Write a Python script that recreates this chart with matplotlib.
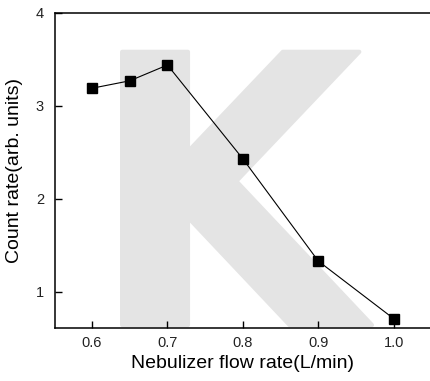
import matplotlib
matplotlib.use('Agg')
import matplotlib.pyplot as plt
from matplotlib.textpath import TextPath
from matplotlib.font_manager import FontProperties
from matplotlib.patches import PathPatch
from matplotlib.transforms import Affine2D

plt.rcParams['font.family'] = ['Liberation Sans', 'DejaVu Sans']

flow_rate = [0.6, 0.65, 0.7, 0.8, 0.9, 1.0]
count_rate = [3.19, 3.27, 3.44, 2.43, 1.33, 0.71]
x_ticks = [0.6, 0.7, 0.8, 0.9, 1.0]
y_ticks = [1, 2, 3, 4]

fig = plt.figure(figsize=(4.3, 3.81), dpi=100)
ax = fig.add_axes([0.128, 0.139, 0.872, 0.827])

# grey "K" watermark behind the data, scaled to its box in figure coords
tp = TextPath((0, 0), 'K', size=1, prop=FontProperties(family='DejaVu Sans', weight='bold'))
ext = tp.get_extents()
x0, x1, y0, y1 = 0.284, 0.865, 0.147, 0.864
tr = (Affine2D().translate(-ext.x0, -ext.y0)
      .scale((x1 - x0) / ext.width, (y1 - y0) / ext.height)
      .translate(x0, y0))
ax.add_patch(PathPatch(tr.transform_path(tp), transform=fig.transFigure,
                       facecolor='#e4e4e4', edgecolor='#e4e4e4', linewidth=3,
                       joinstyle='round', zorder=0, clip_on=False))

ax.plot(flow_rate, count_rate, color='black', linewidth=0.8, zorder=3,
        marker='s', markersize=6.5, markerfacecolor='black')

ax.set_xlim(0.551, 1.048)
ax.set_ylim(0.61, 4.0)
ax.set_xticks(x_ticks)
ax.set_xticklabels([f'{v:.1f}' for v in x_ticks])
ax.set_yticks(y_ticks)
ax.tick_params(direction='in', length=5, width=1, labelsize=10.5, pad=6,
               labelcolor='#222222')
ax.tick_params(axis='y', pad=8)
ax.spines['right'].set_visible(False)
for s in ['left', 'bottom', 'top']:
    ax.spines[s].set_linewidth(1.1)

ax.set_xlabel('Nebulizer flow rate(L/min)', fontsize=14, labelpad=3)
ax.set_ylabel('Count rate(arb. units)', fontsize=14, labelpad=9)

fig.savefig('out.png', dpi=100)
